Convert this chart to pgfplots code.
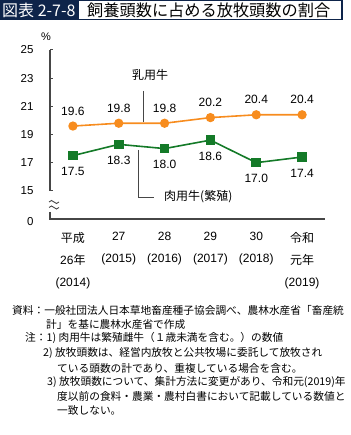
\documentclass[border=0pt]{standalone}
\usepackage{pgfplots}
\pgfplotsset{compat=1.18}
\usetikzlibrary{calc}
\usepackage{fontspec}
\setmainfont{Liberation Sans}
\newfontfamily\cjk{Noto Sans CJK JP}
\definecolor{navy}{RGB}{14,36,74}
\definecolor{orng}{RGB}{247,140,30}
\definecolor{grn}{RGB}{20,122,40}
\definecolor{axgray}{RGB}{70,70,70}
\begin{document}
\begin{tikzpicture}[x=1pt,y=1pt]
\begin{axis}[
  name=ax,
  scale only axis, width=275pt, height=169pt,
  xmin=-0.5, xmax=5.5, ymin=13, ymax=25,
  axis line style={draw=none},
  /pgf/number format/assume math mode=true,
  xtick={0,...,5},
  xticklabels={{{\cjk 平成}\\26{\cjk 年}\\(2014)},{27\\(2015)},{28\\(2016)},{29\\(2017)},{30\\(2018)},{{\cjk 令和}\\{\cjk 元年}\\(2019)}},
  xticklabel style={align=center, font=\fontsize{12}{22}\selectfont, yshift=-10pt},
  major x tick style={draw=none},
  ytick={15,17,...,25},
  extra y ticks={13}, extra y tick labels={0},
  extra y tick style={major tick length=0pt, yticklabel style={yshift=-3pt}},
  yticklabel style={font=\fontsize{11.5}{12}\selectfont, xshift=-13pt},
  tick pos=left,
  tick align=inside, major tick length=3pt,
  major y tick style={axgray, line width=1pt},
  clip=false,
  nodes near coords={\pgfmathprintnumber[fixed,fixed zerofill,precision=1]{\pgfplotspointmeta}},
]
\coordinate (O) at (rel axis cs:0,0);
\addplot[orng, line width=1.6pt, mark=*, mark size=3.8pt, mark options={fill=orng, draw=orng},
  every node near coord/.append style={anchor=center, yshift=15pt, text=black, font=\fontsize{12}{12}\selectfont}]
  coordinates {(0,19.6)(1,19.8)(2,19.8)(3,20.2)(4,20.4)(5,20.4)};
\addplot[grn, line width=1.6pt, mark=square*, mark size=4pt, mark options={fill=grn, draw=grn},
  every node near coord/.append style={anchor=center, yshift=-16pt, text=black, font=\fontsize{12}{12}\selectfont}]
  coordinates {(0,17.5)(1,18.3)(2,18.0)(3,18.6)(4,17.0)(5,17.4)};
\end{axis}
\pgfresetboundingbox
\begin{scope}[shift={($(O)+(-50pt,219pt)$)}]
\useasboundingbox (0,0) rectangle (350,-435);
% title
\fill[navy] (0,0) rectangle (78,-20.5);
\draw[navy, line width=1.2] (78,-0.6) rectangle (342,-19.9);
\node[anchor=west, text=white, font=\cjk\fontsize{16}{16}\selectfont, inner sep=0] at (2,-10.5) {図表 2-7-8};
\node[anchor=west, font=\cjk\fontsize{16.2}{16}\selectfont, inner sep=0] at (87,-10.5) {飼養頭数に占める放牧頭数の割合};
\node[font=\fontsize{11}{11}\selectfont, inner sep=0] at (46,-37) {\%};
% axis lines with break
\draw[axgray, line width=1.1] (50,-50) -- (50,-191);
\draw[axgray, line width=1.1] (50,-212) -- (50,-219) -- (325,-219);
\draw[axgray, line width=0.9] (49,-202) sin (51.5,-200.5) cos (54,-202) sin (56.5,-203.5) cos (59,-202);
\draw[axgray, line width=0.9] (49,-207.5) sin (51.5,-206) cos (54,-207.5) sin (56.5,-209) cos (59,-207.5);
% callouts
\node[font=\cjk\fontsize{12}{12}\selectfont, inner sep=0] at (150,-75) {乳用牛};
\draw[axgray, line width=0.9] (143,-91) -- (143,-122);
\draw[axgray, line width=0.9] (138,-150) -- (138,-197) -- (154,-197);
\node[anchor=west, font=\cjk\fontsize{12}{12}\selectfont, inner sep=0] at (164,-197) {肉用牛(繁殖)};
% notes
\begin{scope}[every node/.style={anchor=west, inner sep=0, font=\cjk\fontsize{10.7}{12}\selectfont}]
\node at (12,-310) {資料：一般社団法人日本草地畜産種子協会調べ、農林水産省「畜産統};
\node at (46,-324) {計」を基に農林水産省で作成};
\node at (25,-338) {注：1) 肉用牛は繁殖雌牛（１歳未満を含む。）の数値};
\node at (43,-353) {2) 放牧頭数は、経営内放牧と公共牧場に委託して放牧され};
\node at (57,-368) {ている頭数の計であり、重複している場合を含む。};
\node at (47,-382) {3) 放牧頭数について、集計方法に変更があり、令和元(2019)年};
\node at (57,-396) {度以前の食料・農業・農村白書において記載している数値と};
\node at (57,-410) {一致しない。};
\end{scope}
\end{scope}
\end{tikzpicture}
\end{document}
